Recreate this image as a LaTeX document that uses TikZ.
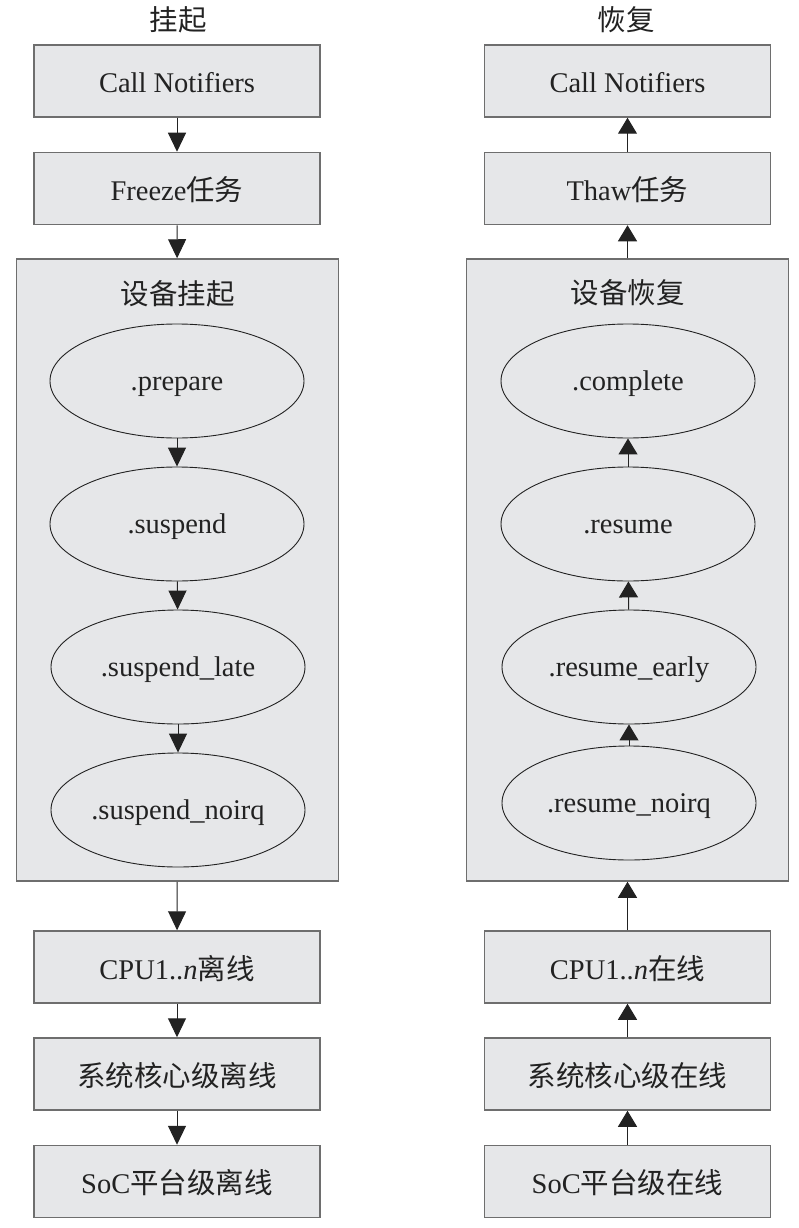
\documentclass[tikz,border=0pt]{standalone}
\usepackage{fontspec}
\setmainfont{Liberation Serif}
\newfontfamily\cjk{Noto Sans CJK SC}
\usetikzlibrary{arrows.meta,shapes.geometric}
\definecolor{boxfill}{HTML}{E6E7E9}
\definecolor{boxline}{HTML}{6E6E6E}
\definecolor{ink}{HTML}{222222}
\tikzset{
  txt/.style={font=\fontsize{28.5}{32}\selectfont, text=ink},
  stepbox/.style={txt, draw=boxline, line width=1.5pt, fill=boxfill, minimum width=286pt, minimum height=72pt, inner sep=0pt, text height=24pt, text depth=0pt},
  group/.style={draw=boxline, line width=1.5pt, fill=boxfill, minimum width=322pt, minimum height=622pt, inner sep=0pt},
  phase/.style={txt, draw=ink, line width=0.9pt, ellipse, minimum width=254pt, minimum height=114pt, inner sep=0pt, text height=22pt, text depth=4pt},
  down/.style={draw=ink, line width=1pt, -{Triangle[width=18pt,length=19pt]}},
  up/.style={draw=ink, line width=1pt, -{Triangle[width=19pt,length=16pt]}},
}
\begin{document}
\begin{tikzpicture}[x=1pt,y=-1pt]
\useasboundingbox (0,0) rectangle (798,1228);
% left column: suspend
\node[txt] (tl) at (178,20) {\cjk 挂起};
\node[stepbox] (l1) at (177,81) {Call Notifiers};
\node[stepbox] (l2) at (177,188.5) {Freeze{\cjk 任务}};
\node[group] (lg) at (177.5,570) {};
\node[txt] (lgl) at (177.5,294) {\cjk 设备挂起};
\node[phase] (lp1) at (177,381) {.prepare};
\node[phase] (lp2) at (177,524) {.suspend};
\node[phase] (lp3) at (178,667) {.suspend\_late};
\node[phase] (lp4) at (178,810) {.suspend\_noirq};
\node[stepbox] (l3) at (177,967) {CPU1..\textit{n}{\cjk 离线}};
\node[stepbox] (l4) at (177,1074) {\cjk 系统核心级离线};
\node[stepbox] (l5) at (177,1181.5) {SoC{\cjk 平台级离线}};
\draw[down] (l1) -- (l2);
\draw[down] (l2) -- (lg);
\draw[down] (lp1) -- (lp2);
\draw[down] (lp2) -- (lp3);
\draw[down] (lp3) -- (lp4);
\draw[down] (lg) -- (l3);
\draw[down] (l3) -- (l4);
\draw[down] (l4) -- (l5);
% right column: resume
\node[txt] (tr) at (626,20) {\cjk 恢复};
\node[stepbox] (r1) at (627.5,81) {Call Notifiers};
\node[stepbox] (r2) at (627.5,188.5) {Thaw{\cjk 任务}};
\node[group] (rg) at (627.5,570) {};
\node[txt] (rgl) at (627.5,293) {\cjk 设备恢复};
\node[phase] (rp1) at (628,381) {.complete};
\node[phase] (rp2) at (628,524) {.resume};
\node[phase] (rp3) at (629,667) {.resume\_early};
\node[phase] (rp4) at (629,803) {.resume\_noirq};
\node[stepbox] (r3) at (627.5,967) {CPU1..\textit{n}{\cjk 在线}};
\node[stepbox] (r4) at (627.5,1074) {\cjk 系统核心级在线};
\node[stepbox] (r5) at (627.5,1181.5) {SoC{\cjk 平台级在线}};
\draw[up] (r2) -- (r1);
\draw[up] (rg) -- (r2);
\draw[up] (rp2) -- (rp1);
\draw[up] (rp3) -- (rp2);
\draw[up] (rp4) -- (rp3);
\draw[up] (r3) -- (rg);
\draw[up] (r4) -- (r3);
\draw[up] (r5) -- (r4);
\end{tikzpicture}
\end{document}
